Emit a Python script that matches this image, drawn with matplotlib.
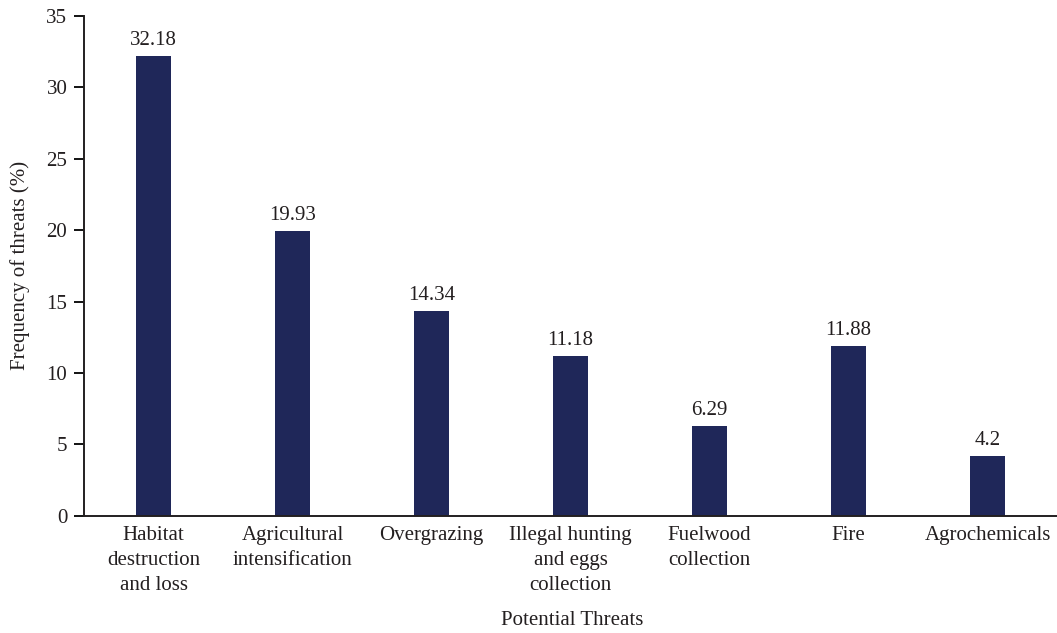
import matplotlib.pyplot as plt

# Data
categories = ["Habitat\ndestruction\nand loss", "Agricultural\nintensification", "Overgrazing",
              "Illegal hunting\nand eggs\ncollection", "Fuelwood\ncollection", "Fire", "Agrochemicals"]
values = [32.18, 19.93, 14.34, 11.18, 6.29, 11.88, 4.2]
value_labels = ["32.18", "19.93", "14.34", "11.18", "6.29", "11.88", "4.2"]

plt.rcParams['font.family'] = ['Liberation Serif', 'DejaVu Serif']
txt = '#231f20'

fig = plt.figure(figsize=(10.57, 6.33), dpi=100)
ax = fig.add_axes([0.0795, 0.185, 0.9205, 0.79])

x = range(len(values))
ax.bar(x, values, width=0.25, color='#1f2759', zorder=2)
for i, (v, lab) in enumerate(zip(values, value_labels)):
    ax.text(i, v + 0.4, lab, ha='center', va='bottom', fontsize=15, color=txt)

ax.set_xlim(-0.5, 6.5)
ax.set_ylim(0, 35)
ax.set_yticks(range(0, 36, 5))
ax.set_xticks(list(x))
ax.set_xticklabels(categories, fontsize=15, color=txt, linespacing=1.45, va='top')
ax.tick_params(axis='x', length=0, pad=7)
ax.tick_params(axis='y', length=7, width=1.3, labelsize=15, labelcolor=txt, pad=5)

for s in ['top', 'right']:
    ax.spines[s].set_visible(False)
for s in ['left', 'bottom']:
    ax.spines[s].set_linewidth(1.4)
    ax.spines[s].set_color('#231f20')

ax.set_ylabel("Frequency of threats (%)", fontsize=15, color=txt, labelpad=12)
fig.text(0.5415, 0.005, "Potential Threats", ha='center', va='bottom', fontsize=15, color=txt)

fig.savefig("out.png", dpi=100)
